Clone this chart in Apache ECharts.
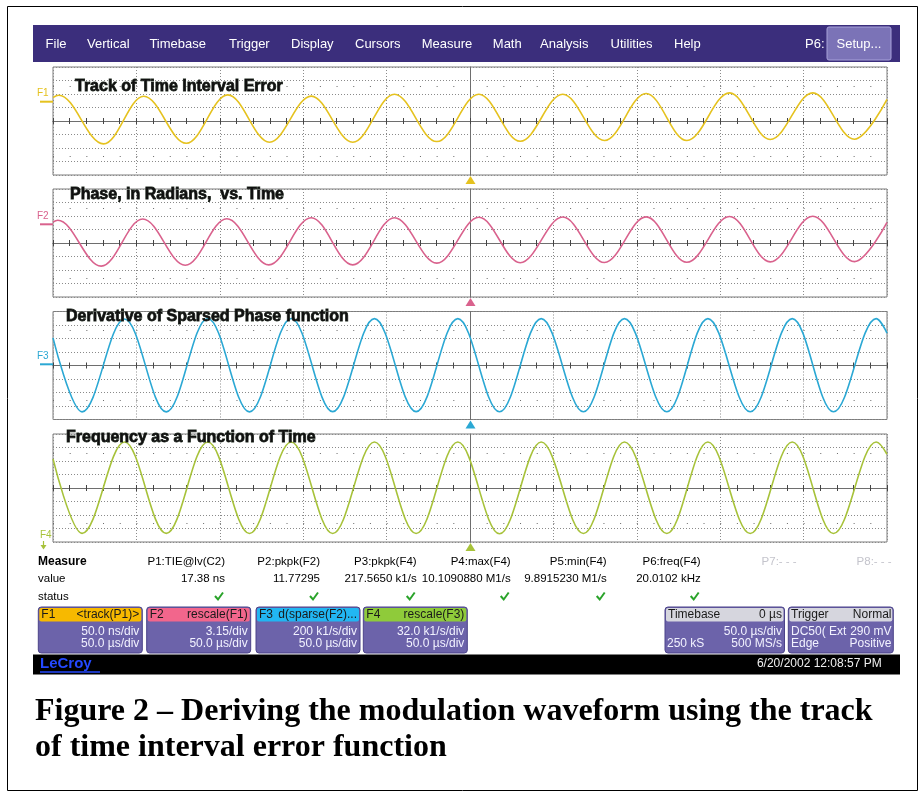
<!DOCTYPE html>
<html>
<head>
<meta charset="utf-8">
<title>Figure 2 – LeCroy TIE track</title>
<script src="https://cdn.jsdelivr.net/npm/echarts@6.0.0/dist/echarts.min.js"></script>
<style>
html,body{margin:0;padding:0;background:#ffffff;}
#chart{width:924px;height:797px;}
</style>
</head>
<body>
<div id="chart"></div>
<script>
// ------------------------------------------------------------------ data
const menuItems = ['File','Vertical','Timebase','Trigger','Display','Cursors','Measure','Math','Analysis','Utilities','Help'];
const panelTitles = ['Track of Time Interval Error','Phase, in Radians,  vs. Time','Derivative of Sparsed Phase function','Frequency as a Function of Time'];
const traceNames = ['F1','F2','F3','F4'];
const tracePerDiv = [50, 3.15, 200, 0.032];      // ns/div, rad/div, k1/s/div, M1/s/div
const traceCenter = [0, 0, 0, 10.0];             // value at screen centre
const timeMin = -250, timeMax = 250, timePerDiv = 50;   // µs
const vDivs = 4;                                 // divisions above/below centre

// [time µs, value] read at the extremes of each trace
const f1TIE = [[-250,87],[-246.5,95.5],[-219.7,-84.7],[-195.6,91.8],[-170.1,-82.4],[-145.2,96.6],[-120.2,-78.7],[-95.2,92.0],[-70.3,-78.7],[-45.3,99.2],[-19.9,-76.1],[5.3,99.2],[30.1,-75.0],[55.6,99.2],[80.6,-72.4],[105.6,101.8],[130.0,-72.4],[155.6,104.0],[180.0,-68.6],[205.5,104.0],[230.5,-67.5],[250,80]];
const f2Phase = [[-250,4.9],[-247.1,5.3],[-221.1,-5.4],[-196.2,5.6],[-170.7,-5.2],[-145.8,5.65],[-120.6,-5.1],[-95.2,5.9],[-70.3,-5.1],[-45.3,5.9],[-19.9,-4.7],[5.3,6.0],[30.1,-4.6],[55.6,6.05],[80.6,-4.55],[105.6,6.1],[130,-4.5],[155.6,6.2],[180,-4.4],[205.5,6.25],[230.5,-4.35],[250,4.8]];
const f3Deriv = [[-250,410],[-232.6,-687],[-207.1,690],[-182.1,-687],[-157.2,697],[-132.2,-687],[-107.2,697],[-82.3,-684],[-57.3,694],[-32.3,-684],[-7.3,694],[17.7,-686],[42.7,695],[68,-686],[92.6,695],[118,-686],[142.6,695],[168,-686],[193.2,695],[217.9,-686],[243.5,695],[250,480]];
const f4Freq = [[-250,10.069],[-232.6,9.8925],[-207.1,10.1089],[-182.1,9.8925],[-157.2,10.1089],[-132.2,9.8920],[-107.2,10.1091],[-82.3,9.8920],[-57.3,10.1091],[-32.3,9.8920],[-7.3,10.1090],[17.7,9.8915],[42.7,10.1089],[68,9.8920],[92.6,10.1091],[118,9.8920],[142.6,10.1091],[168,9.8920],[193.2,10.1091],[217.9,9.8920],[243.5,10.1090],[250,10.080]];
const traces = [f1TIE, f2Phase, f3Deriv, f4Freq];

const measureNames  = ['P1:TIE@lv(C2)','P2:pkpk(F2)','P3:pkpk(F4)','P4:max(F4)','P5:min(F4)','P6:freq(F4)','P7:- - -','P8:- - -'];
const measureValues = ['17.38 ns','11.77295','217.5650 k1/s','10.1090880 M1/s','9.8915230 M1/s','20.0102 kHz','',''];
const measureOk     = [true,true,true,true,true,true,false,false];

const fnLabels = ['F1','F2','F3','F4'];
const fnOps    = ['<track(P1)>','rescale(F1)','d(sparse(F2)...','rescale(F3)'];
const fnVdiv   = ['50.0 ns/div','3.15/div','200 k1/s/div','32.0 k1/s/div'];
const fnHdiv   = ['50.0 µs/div','50.0 µs/div','50.0 µs/div','50.0 µs/div'];
const timebaseInfo = ['Timebase','0 µs','50.0 µs/div','250 kS','500 MS/s'];
const triggerInfo  = ['Trigger','Normal','DC50( Ext','290 mV','Edge','Positive'];
const footerText = ['LeCroy','6/20/2002 12:08:57 PM'];
const captionLines = ['Figure 2 – Deriving the modulation waveform using the track','of time interval error function'];

// ------------------------------------------------------------------ style / layout
const traceColors = ['#e5c21f','#d9628d','#2ba8d4','#a7c23a'];
const hdrColors   = ['#f7b900','#f2668c','#22b6f2','#8fcb3a'];
const gridLeft = 53, gridWidth = 834, gridHeight = 108;
const gridTops = [67, 189, 311.5, 434];
const titlePos = [[75,87],[70,195],[66,317],[66,438]];
const SANS = '"Liberation Sans", Arial, sans-serif';

const G = [];
function txt(x, y, text, o) {
  o = o || {};
  const st = {text: text, fill: o.fill || '#000', font: o.font || ('11px ' + SANS),
    align: o.align || 'left', textAlign: o.align || 'left',
    verticalAlign: 'middle', textVerticalAlign: 'middle'};
  if (o.extra) Object.assign(st, o.extra);
  G.push({type: 'text', x: x, y: y, z: o.z || 60, silent: true, style: st});
}
function rect(x, y, w, h, fill, o) {
  o = o || {};
  G.push({type: 'rect', z: o.z || 20, silent: true, shape: {x: x, y: y, width: w, height: h, r: o.r || 0},
    style: {fill: fill, stroke: o.stroke || null, lineWidth: o.lw || 1}});
}
function poly(pts, fill, z) { G.push({type: 'polygon', z: z || 30, silent: true, shape: {points: pts}, style: {fill: fill}}); }
function pline(pts, stroke, lw, z) { G.push({type: 'polyline', z: z || 30, silent: true, shape: {points: pts}, style: {stroke: stroke, lineWidth: lw, fill: null}}); }

// page frame
rect(7.5, 6.5, 910, 784, null, {stroke: '#000', lw: 1, z: 5});
// menu bar
rect(33, 25, 867, 37, '#3b2e7c', {z: 10});
const menuX = [45.6, 87, 149.4, 229, 291, 355, 421.7, 492.8, 540, 610.6, 674];
menuItems.forEach((m, i) => txt(menuX[i], 44, m, {fill: '#ffffff', font: '13px ' + SANS}));
txt(805, 44, 'P6:', {fill: '#ffffff', font: '13px ' + SANS});
rect(827, 27, 64, 33, '#7b73b7', {stroke: '#a9a3da', r: 2, z: 15});
txt(859, 44, 'Setup...', {fill: '#ffffff', font: '13px ' + SANS, align: 'center'});

// panel titles, trace markers, trigger arrows
panelTitles.forEach((t, i) => txt(titlePos[i][0], titlePos[i][1], t, {
  fill: '#101010', font: 'bold 16px ' + SANS, z: 80,
  extra: {stroke: '#1e2a1e', lineWidth: 0.8, shadowColor: 'rgba(40,70,40,0.55)', shadowBlur: 2}}));
const markerY = [101.7, 224.3, 364.3];
for (let i = 0; i < 3; i++) {
  txt(37, markerY[i] - 8, traceNames[i], {fill: traceColors[i], font: '10px ' + SANS});
  pline([[40, markerY[i]], [53, markerY[i]]], traceColors[i], 2);
}
txt(40, 535, 'F4', {fill: traceColors[3], font: '10px ' + SANS});
pline([[43.5, 541], [43.5, 548]], traceColors[3], 1.2);
poly([[40.5, 545], [46.5, 545], [43.5, 549.5]], traceColors[3]);
gridTops.forEach((top, i) => {
  const yb = top + gridHeight + 1;
  poly([[465.5, yb + 8], [475.5, yb + 8], [470.5, yb]], traceColors[i]);
});

// measure table
txt(38, 562, 'Measure', {font: 'bold 12px ' + SANS});
txt(38, 579, 'value', {font: '11.5px ' + SANS});
txt(38, 597, 'status', {font: '11.5px ' + SANS});
const colRight = [225, 320, 416.7, 510.7, 606.7, 700.7, 796.7, 891.7];
measureNames.forEach((n, i) => {
  txt(colRight[i], 562, n, {align: 'right', font: '11.5px ' + SANS, fill: measureOk[i] ? '#000' : '#c4c4cc'});
  if (measureValues[i]) txt(colRight[i], 579, measureValues[i], {align: 'right', font: '11.5px ' + SANS});
  if (measureOk[i]) {
    const cx = colRight[i] - 6;
    pline([[cx - 4, 596], [cx - 1, 599.5], [cx + 4, 592.5]], '#29a329', 2);
  }
});

// function boxes
const boxX = [38.3, 146.7, 256, 363.3], boxW = 104;
fnLabels.forEach((f, i) => {
  const x = boxX[i];
  rect(x, 607, boxW, 46, '#6c63aa', {stroke: '#4b4389', r: 3});
  rect(x + 1, 608, boxW - 2, 13.5, hdrColors[i], {r: 2, z: 22});
  txt(x + 3, 615, f, {font: '12px ' + SANS, fill: '#1a1a1a'});
  txt(x + boxW - 3, 615, fnOps[i], {font: '12px ' + SANS, fill: '#1a1a1a', align: 'right'});
  txt(x + boxW - 3, 632, fnVdiv[i], {font: '12px ' + SANS, fill: '#f2f2ff', align: 'right'});
  txt(x + boxW - 3, 644, fnHdiv[i], {font: '12px ' + SANS, fill: '#f2f2ff', align: 'right'});
});
// timebase & trigger boxes
rect(665, 607, 119.5, 46, '#6c63aa', {stroke: '#4b4389', r: 3});
rect(666, 608, 117.5, 13.5, '#d6d6de', {r: 2, z: 22});
txt(668, 615, timebaseInfo[0], {font: '12px ' + SANS, fill: '#1a1a1a'});
txt(782, 615, timebaseInfo[1], {font: '12px ' + SANS, fill: '#1a1a1a', align: 'right'});
txt(782, 632, timebaseInfo[2], {font: '12px ' + SANS, fill: '#f2f2ff', align: 'right'});
txt(667, 644, timebaseInfo[3], {font: '12px ' + SANS, fill: '#f2f2ff'});
txt(782, 644, timebaseInfo[4], {font: '12px ' + SANS, fill: '#f2f2ff', align: 'right'});
rect(788.3, 607, 105, 46, '#6c63aa', {stroke: '#4b4389', r: 3});
rect(789.3, 608, 103, 13.5, '#d6d6de', {r: 2, z: 22});
txt(791, 615, triggerInfo[0], {font: '12px ' + SANS, fill: '#1a1a1a'});
txt(891.5, 615, triggerInfo[1], {font: '12px ' + SANS, fill: '#1a1a1a', align: 'right'});
txt(791, 632, triggerInfo[2], {font: '12px ' + SANS, fill: '#f2f2ff'});
txt(891.5, 632, triggerInfo[3], {font: '12px ' + SANS, fill: '#f2f2ff', align: 'right'});
txt(791, 644, triggerInfo[4], {font: '12px ' + SANS, fill: '#f2f2ff'});
txt(891.5, 644, triggerInfo[5], {font: '12px ' + SANS, fill: '#f2f2ff', align: 'right'});

// footer bar
rect(33, 654.5, 867, 20, '#000000', {z: 10});
txt(40, 664, footerText[0], {font: 'bold 15px ' + SANS, fill: '#2449ff', extra: {}});
pline([[40, 672], [100, 672]], '#2449ff', 1.5, 61);
txt(881.7, 664, footerText[1], {font: '12px ' + SANS, fill: '#f0f0f0', align: 'right'});

// caption
txt(35, 712, captionLines[0], {font: 'bold 32px "Liberation Serif", "Times New Roman", serif'});
txt(35, 748, captionLines[1], {font: 'bold 32px "Liberation Serif", "Times New Roman", serif'});

// ------------------------------------------------------------------ grids / axes / series
const grids = [], xAxes = [], yAxes = [], series = [];
const tickStyle = {color: '#444', width: 1};
for (let i = 0; i < 4; i++) {
  grids.push({left: gridLeft, top: gridTops[i], width: gridWidth, height: gridHeight,
    show: true, borderColor: '#7c7c7c', borderWidth: 1, backgroundColor: '#ffffff'});
  ['bottom', 'top'].forEach((pos, k) => xAxes.push({
    gridIndex: i, type: 'value', position: pos, min: timeMin, max: timeMax, interval: timePerDiv,
    axisLine: {onZero: true, lineStyle: {color: '#6e6e6e', width: 1}},
    axisTick: {show: true, length: 3, lineStyle: tickStyle},
    minorTick: {show: true, splitNumber: 5, length: 3, lineStyle: tickStyle},
    axisLabel: {show: false},
    splitLine: {show: k === 0, lineStyle: {color: '#8a8a8a', type: [1, 2], width: 1}}
  }));
  ['left', 'right'].forEach((pos, k) => yAxes.push({
    gridIndex: i, type: 'value', position: pos, min: -vDivs, max: vDivs, interval: 1,
    axisLine: {show: k === 0, onZero: true, lineStyle: {color: '#6e6e6e', width: 1}},
    axisTick: {show: false},
    minorTick: {show: false},
    axisLabel: {show: false},
    splitLine: {show: k === 0, lineStyle: {color: '#8a8a8a', type: [1, 2], width: 1}}
  }));
  series.push({
    type: 'line', name: traceNames[i], xAxisIndex: 2 * i, yAxisIndex: 2 * i,
    data: traces[i].map(p => [p[0], (p[1] - traceCenter[i]) / tracePerDiv[i]]),
    showSymbol: false, symbol: 'none', smooth: 0.364, smoothMonotone: 'x',
    lineStyle: {color: traceColors[i], width: 1.6}, itemStyle: {color: traceColors[i]},
    silent: true, z: 5,
    markLine: {silent: true, symbol: 'none', label: {show: false}, animation: false,
      lineStyle: {color: '#6a6a6a', type: [1, gridWidth / 50 - 1], width: 1},
      data: [{yAxis: 2.6}, {yAxis: -2.6}]}
  });
}

const chart = echarts.init(document.getElementById('chart'), null, {renderer: 'canvas', width: 924, height: 797});
chart.setOption({
  backgroundColor: '#ffffff',
  animation: false,
  grid: grids, xAxis: xAxes, yAxis: yAxes, series: series,
  graphic: {elements: G}
});
</script>
</body>
</html>
